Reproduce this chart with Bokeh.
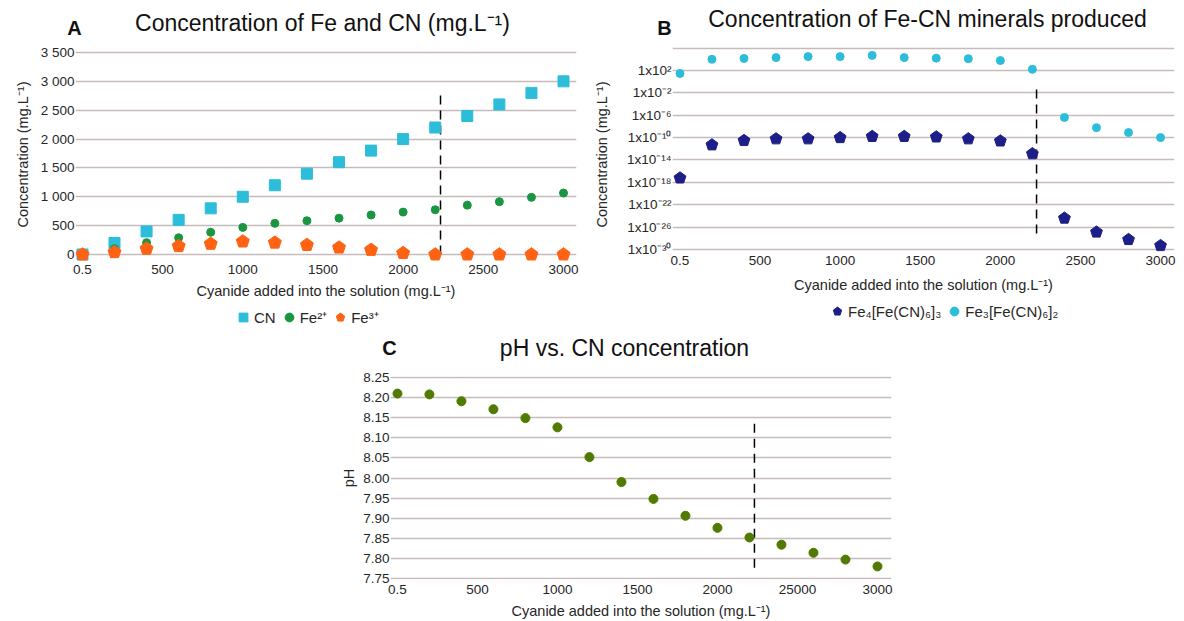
from bokeh.plotting import figure
from bokeh.models import FixedTicker, Label, Legend, LegendItem, Spacer, Range1d
from bokeh.layouts import row, column
from bokeh.embed import file_html
from bokeh.resources import INLINE

# ---------------- data ----------------
cyanide = [0.5, 200, 400, 600, 800, 1000, 1200, 1400, 1600, 1800, 2000, 2200, 2400, 2600, 2800, 3000]

# Panel A (mg/L)
cn_conc = [0.5, 200, 400, 600, 800, 1000, 1200, 1400, 1600, 1800, 2000, 2200, 2400, 2600, 2800, 3000]
fe2_conc = [0, 100, 205, 290, 385, 470, 540, 585, 630, 685, 735, 775, 855, 915, 990, 1065]
fe3_conc = [0, 40, 100, 145, 185, 225, 205, 165, 120, 80, 25, 0, 0, 0, 0, 0]

# Panel B (mg/L, log)
fe4_mineral = [6e-18, 5e-12, 3e-11, 6e-11, 6e-11, 1e-10, 1.6e-10, 1.6e-10, 1.3e-10, 6e-11,
               2.5e-11, 1.3e-13, 4e-25, 1.3e-27, 6e-29, 5e-30]
fe3_mineral = [29, 1e4, 1.4e4, 2e4, 3e4, 3e4, 5e4, 2e4, 1.6e4, 1.3e4, 6e3, 160,
               4e-7, 6e-9, 8e-10, 1e-10]

# Panel C
ph_values = [8.210, 8.208, 8.191, 8.171, 8.149, 8.126, 8.052, 7.990, 7.948, 7.906,
             7.876, 7.852, 7.834, 7.814, 7.797, 7.780]

# threshold (dashed) lines: x, y-start, y-end
thr_a = [2233, 0, 2824]
thr_b = [2226, 4e-2, 1e-28]
thr_c = [2231, 7.777, 8.144]

# ticks / labels
x_ticks = [0.5, 500, 1000, 1500, 2000, 2500, 3000]
x_labels = ["0.5", "500", "1000", "1500", "2000", "2500", "3000"]
x_labels_c = ["0.5", "500", "1000", "1500", "2000", "25000", "3000"]
a_ticks = [0, 500, 1000, 1500, 2000, 2500, 3000, 3500]
a_labels = ["0", "500", "1 000", "1 500", "2 000", "2 500", "3 000", "3 500"]
b_ticks = [1e6, 1e2, 1e-2, 1e-6, 1e-10, 1e-14, 1e-18, 1e-22, 1e-26, 1e-30]
b_labels = ["", "1x10\u00b2", "1x10\u207b\u00b2", "1x10\u207b\u2076", "1x10\u207b\u00b9\u2070",
            "1x10\u207b\u00b9\u2074", "1x10\u207b\u00b9\u2078", "1x10\u207b\u00b2\u00b2",
            "1x10\u207b\u00b2\u2076", "1x10\u207b\u00b3\u2070"]
c_ticks = [7.75, 7.80, 7.85, 7.90, 7.95, 8.00, 8.05, 8.10, 8.15, 8.20, 8.25]
c_labels = ["7.75", "7.80", "7.85", "7.90", "7.95", "8.00", "8.05", "8.10", "8.15", "8.20", "8.25"]

# legend labels
legend_a = ["CN", "Fe\u00b2\u207a", "Fe\u00b3\u207a"]
legend_b = ["Fe\u2084[Fe(CN)\u2086]\u2083", "Fe\u2083[Fe(CN)\u2086]\u2082"]

# ---------------- style ----------------
FONT = "Liberation Sans"
GRID = "#c6babc"
TXT = "#262626"
CYAN = "#2cbdda"
GREEN = "#1a9641"
ORANGE = "#ff6212"
NAVY = "#1e1e88"
OLIVE = "#507a00"
XLAB = "Cyanide added into the solution (mg.L\u207b\u00b9)"
YLAB = "Concentration (mg.L\u207b\u00b9)"
OFF = [-1000]  # legend swatch renderers live outside the visible strip
PENTA_ANGLE = 0.0


def make_fig(width, height, left, right, top, bottom, x_range, y_range, **kw):
    p = figure(width=width, height=height, min_border_left=left, min_border_right=right,
               min_border_top=top, min_border_bottom=bottom, x_range=x_range, y_range=y_range,
               toolbar_location=None, output_backend="svg", **kw)
    p.outline_line_color = None
    p.xgrid.grid_line_color = None
    p.ygrid.grid_line_color = GRID
    p.ygrid.grid_line_width = 1.5
    for ax in p.axis:
        ax.axis_line_color = None
        ax.major_tick_line_color = None
        ax.minor_tick_line_color = None
        ax.major_tick_out = 0
        ax.minor_tick_out = 0
        ax.major_tick_in = 0
        ax.minor_tick_in = 0
        ax.major_label_text_font = FONT
        ax.major_label_text_font_size = "13.5px"
        ax.major_label_text_color = TXT
        ax.axis_label_text_font = FONT
        ax.axis_label_text_font_size = "14.5px"
        ax.axis_label_text_font_style = "normal"
        ax.axis_label_text_color = TXT
    return p


def make_strip(width, height):
    h = figure(width=width, height=height, x_range=Range1d(0, width), y_range=Range1d(0, height),
               min_border=0, toolbar_location=None, output_backend="svg",
               x_axis_location=None, y_axis_location=None)
    h.outline_line_color = None
    h.grid.visible = False
    return h


def add_text(h, x, y_from_top, text, size, bold=False):
    h.add_layout(Label(x=x, y=h.height - y_from_top, text=text,
                       text_font=FONT, text_font_size=size,
                       text_font_style="bold" if bold else "normal",
                       text_color="#111111", text_align="center", text_baseline="middle"))


def pentagons(p, xs, ys, r, color):
    if hasattr(p, "ngon"):
        return p.ngon(x=xs, y=ys, radius=r, radius_units="screen", n=5, angle=PENTA_ANGLE,
                      fill_color=color, line_color=color)
    return p.scatter(x=xs, y=ys, marker="hex", size=2 * r, fill_color=color, line_color=color)


def make_legend(items, vx, vy):
    return Legend(items=items, orientation="horizontal", location=(vx, vy),
                  glyph_width=22, glyph_height=24, label_standoff=0, spacing=2, padding=0,
                  margin=0, border_line_color=None, background_fill_alpha=0,
                  label_text_font=FONT, label_text_font_size="15px", label_text_color=TXT)


# ---------------- header row 1 (titles) ----------------
head1 = make_strip(1184, 40)
add_text(head1, 322, 22, "Concentration of Fe and CN (mg.L\u207b\u00b9)", "23px")
add_text(head1, 74, 27, "A", "20px", bold=True)
add_text(head1, 927, 18.5, "Concentration of Fe-CN minerals produced", "23px")
add_text(head1, 664, 27, "B", "20px", bold=True)

# ---------------- Panel A ----------------
pa = make_fig(590, 262, 75, 14, 6, 40, Range1d(-43.2, 3081), Range1d(-138.6, 3604))
pa.xaxis.ticker = FixedTicker(ticks=x_ticks)
pa.xaxis.major_label_overrides = dict(zip(x_ticks, x_labels))
pa.yaxis.ticker = FixedTicker(ticks=a_ticks)
pa.yaxis.major_label_overrides = dict(zip(a_ticks, a_labels))
pa.xaxis.axis_label = XLAB
pa.yaxis.axis_label = YLAB
pa.xaxis.major_label_standoff = 2
pa.xaxis.axis_label_standoff = 6
pa.yaxis.major_label_standoff = 1
pa.yaxis.axis_label_standoff = 7
pa.segment(x0=[thr_a[0]], y0=[thr_a[1]], x1=[thr_a[0]], y1=[thr_a[2]],
           line_color="black", line_width=1.5, line_dash="9 6")
pa.scatter(x=cyanide, y=cn_conc, marker="square", size=11, fill_color=CYAN, line_color=CYAN)
pa.scatter(x=cyanide, y=fe2_conc, marker="circle", size=8, fill_color=GREEN, line_color=GREEN)
pentagons(pa, cyanide, fe3_conc, 6.8, ORANGE)

# ---------------- Panel B ----------------
pb = make_fig(594, 262, 82, 10, 6, 40, Range1d(-46.3, 3087), Range1d(10 ** -32.324, 10 ** 6.286),
              y_axis_type="log")
pb.xaxis.ticker = FixedTicker(ticks=x_ticks)
pb.xaxis.major_label_overrides = dict(zip(x_ticks, x_labels))
pb.yaxis.ticker = FixedTicker(ticks=b_ticks)
pb.yaxis.major_label_overrides = dict(zip(b_ticks, b_labels))
pb.xaxis.axis_label = XLAB
pb.yaxis.axis_label = YLAB
pb.xaxis.major_label_standoff = -7
pb.xaxis.axis_label_standoff = 9
pb.yaxis.major_label_standoff = 1
pb.yaxis.axis_label_standoff = 14
pb.segment(x0=[thr_b[0]], y0=[thr_b[1]], x1=[thr_b[0]], y1=[thr_b[2]],
           line_color="black", line_width=1.5, line_dash="9 6")
pentagons(pb, cyanide, fe4_mineral, 6.2, NAVY)
pb.scatter(x=cyanide, y=fe3_mineral, marker="circle", size=8, fill_color=CYAN, line_color=CYAN)

# ---------------- legend strip (row 1) ----------------
foot1 = make_strip(1184, 33)
la_cn = foot1.scatter(x=OFF, y=OFF, marker="square", size=11, fill_color=CYAN, line_color=CYAN)
la_fe2 = foot1.scatter(x=OFF, y=OFF, marker="circle", size=8, fill_color=GREEN, line_color=GREEN)
la_fe3 = pentagons(foot1, OFF, OFF, 6.8, ORANGE)
lb_fe4 = pentagons(foot1, OFF, OFF, 6.2, NAVY)
lb_fe3 = foot1.scatter(x=OFF, y=OFF, marker="circle", size=8, fill_color=CYAN, line_color=CYAN)
foot1.add_layout(make_legend([LegendItem(label=legend_a[0], renderers=[la_cn]),
                              LegendItem(label=legend_a[1], renderers=[la_fe2]),
                              LegendItem(label=legend_a[2], renderers=[la_fe3])], 232, 6))
foot1.add_layout(make_legend([LegendItem(label=legend_b[0], renderers=[lb_fe4]),
                              LegendItem(label=legend_b[1], renderers=[lb_fe3])], 826, 12))

# ---------------- header row 2 ----------------
head2 = make_strip(1184, 27)
add_text(head2, 624, 12, "pH vs. CN concentration", "23px")
add_text(head2, 389, 12, "C", "20px", bold=True)

# ---------------- Panel C ----------------
pc = make_fig(581, 259, 60, 20, 14, 41, Range1d(-43.2, 3087.5), Range1d(7.7475, 8.2525))
pc.xaxis.ticker = FixedTicker(ticks=x_ticks)
pc.xaxis.major_label_overrides = dict(zip(x_ticks, x_labels_c))
pc.yaxis.ticker = FixedTicker(ticks=c_ticks)
pc.yaxis.major_label_overrides = dict(zip(c_ticks, c_labels))
pc.xaxis.axis_label = XLAB
pc.yaxis.axis_label = "pH"
pc.xaxis.major_label_standoff = 5
pc.xaxis.axis_label_standoff = 6
pc.yaxis.major_label_standoff = 1
pc.yaxis.axis_label_standoff = 3
pc.segment(x0=[thr_c[0]], y0=[thr_c[1]], x1=[thr_c[0]], y1=[thr_c[2]],
           line_color="black", line_width=1.5, line_dash="9 6")
pc.scatter(x=cyanide, y=ph_values, marker="circle", size=9, fill_color=OLIVE, line_color=OLIVE)

layout = column(head1, row(pa, pb), foot1, head2, row(Spacer(width=330, height=259), pc))

with open("out.html", "w") as f:
    f.write(file_html(layout, INLINE))
